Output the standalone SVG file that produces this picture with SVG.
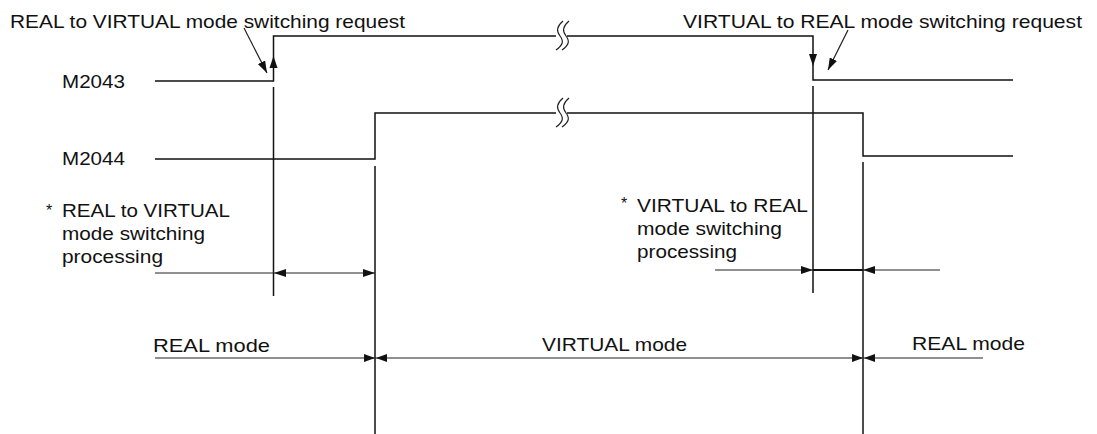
<svg xmlns="http://www.w3.org/2000/svg" width="1097" height="434" viewBox="0 0 1097 434">
<style>
.ln{fill:none;stroke:#111;stroke-width:1.5}
.thin{fill:none;stroke:#222;stroke-width:1.2}
.ah{fill:#111}
.t{font-family:"Liberation Sans",Arial,sans-serif;font-size:19px;fill:#111}
.ast{font-family:"Liberation Sans",Arial,sans-serif;font-size:16px;fill:#111}
</style>
<defs>
<marker id="arr" viewBox="0 0 12 8" refX="12" refY="4" markerWidth="12" markerHeight="8" markerUnits="userSpaceOnUse" orient="auto">
<path d="M0,0 L12,4 L0,8 z" fill="#111"/>
</marker>
</defs>
<rect width="1097" height="434" fill="#fff"/>

<g id="label-req-r2v">
<text class="t" x="10" y="28" textLength="395" lengthAdjust="spacingAndGlyphs">REAL to VIRTUAL mode switching request</text>
</g>
<g id="label-req-v2r">
<text class="t" x="683" y="28" textLength="399" lengthAdjust="spacingAndGlyphs">VIRTUAL to REAL mode switching request</text>
</g>

<g id="signal-M2043">
<text class="t" x="62" y="88" textLength="63" lengthAdjust="spacingAndGlyphs">M2043</text>
<path class="ln" d="M155,81 H273.5 V36 H556"/>
<path class="ln" d="M567,36 H813 V80 H1013"/>
<path class="thin" d="M563,21 C557,26 556,31 560,36 S563,45 556,50"/>
<path class="thin" d="M569,21 C563,26 562,31 566,36 S569,45 562,50"/>
<polygon class="ah" points="273.5,56 269.5,68 277.5,68"/>
<polygon class="ah" points="813,66 809,54 817,54"/>
</g>

<g id="signal-M2044">
<text class="t" x="62" y="165" textLength="63" lengthAdjust="spacingAndGlyphs">M2044</text>
<path class="ln" d="M155,159 H375 V113 H556"/>
<path class="ln" d="M567,113 H863 V156 H1013"/>
<path class="thin" d="M563,98 C557,103 556,108 560,113 S563,122 556,127"/>
<path class="thin" d="M569,98 C563,103 562,108 566,113 S569,122 562,127"/>
</g>

<g id="label-proc-r2v">
<text class="ast" x="46" y="216">*</text>
<text class="t" x="62" y="217" textLength="168" lengthAdjust="spacingAndGlyphs">REAL to VIRTUAL</text>
<text class="t" x="62" y="240" textLength="143" lengthAdjust="spacingAndGlyphs">mode switching</text>
<text class="t" x="62" y="263" textLength="101" lengthAdjust="spacingAndGlyphs">processing</text>
</g>
<g id="label-proc-v2r">
<text class="ast" x="621" y="209">*</text>
<text class="t" x="637" y="212" textLength="171" lengthAdjust="spacingAndGlyphs">VIRTUAL to REAL</text>
<text class="t" x="637" y="235" textLength="145" lengthAdjust="spacingAndGlyphs">mode switching</text>
<text class="t" x="637" y="258" textLength="100" lengthAdjust="spacingAndGlyphs">processing</text>
</g>

<g id="label-modes">
<text class="t" x="153" y="352" textLength="117" lengthAdjust="spacingAndGlyphs">REAL mode</text>
<text class="t" x="542" y="351" textLength="145" lengthAdjust="spacingAndGlyphs">VIRTUAL mode</text>
<text class="t" x="912" y="350" textLength="113" lengthAdjust="spacingAndGlyphs">REAL mode</text>
</g>

<g id="connectors">
<line class="thin" x1="244" y1="28" x2="267" y2="73" marker-end="url(#arr)"/>
<line class="thin" x1="848" y1="30" x2="828" y2="70" marker-end="url(#arr)"/>

<line class="ln" x1="273.5" y1="87" x2="273.5" y2="296"/>
<line class="ln" x1="375" y1="166" x2="375" y2="434"/>
<line class="ln" x1="813" y1="86" x2="813" y2="293"/>
<line class="ln" x1="863" y1="162" x2="863" y2="434"/>

<line class="thin" x1="155" y1="273" x2="375" y2="273"/>
<polygon class="ah" points="274,273 286,269 286,277"/>
<polygon class="ah" points="375,273 363,269 363,277"/>

<line class="thin" x1="715" y1="270" x2="940" y2="270"/>
<line class="ln" x1="813" y1="270" x2="863" y2="270" style="stroke-width:2"/>
<polygon class="ah" points="813,270 801,266 801,274"/>
<polygon class="ah" points="863,270 875,266 875,274"/>

<line class="thin" x1="155" y1="358" x2="983" y2="358"/>
<polygon class="ah" points="375,358 364,354 364,362"/>
<polygon class="ah" points="376,358 387,354 387,362"/>
<polygon class="ah" points="863,358 852,354 852,362"/>
<polygon class="ah" points="864,358 875,354 875,362"/>
</g>
</svg>
